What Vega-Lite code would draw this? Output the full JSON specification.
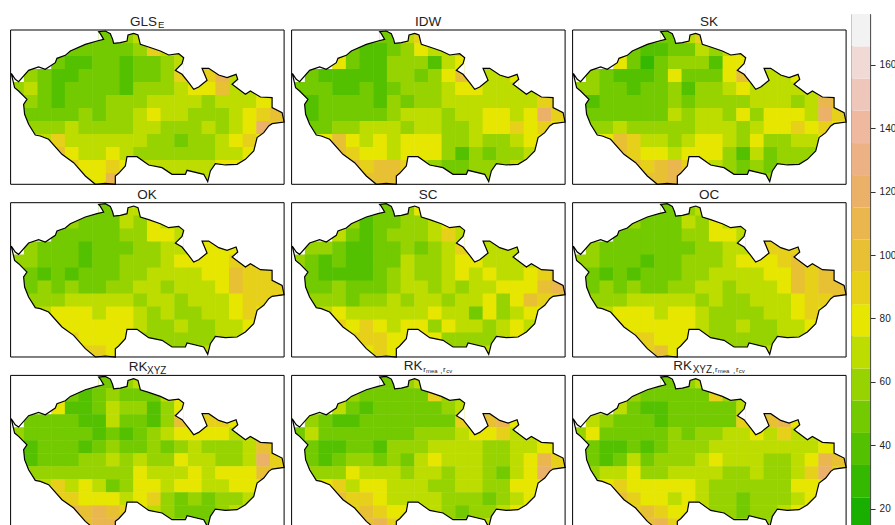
{"$schema":"https://vega.github.io/schema/vega-lite/v6.json","background":"white","padding":{"left":8.6,"top":13,"right":0,"bottom":0},"spacing":1.8,"config":{"text":{"font":"Liberation Sans","align":"left","baseline":"alphabetic","fill":"#222222"}},
"datasets":{"frame":[{"x":0,"x2":820,"y":0,"y2":463}],"cells":[
{"x":266,"y":20,"GLS":50,"IDW":50,"SK":50,"OK":50,"SC":50,"OC":50,"R1":50,"R2":50,"R3":50},
{"x":307,"y":20,"GLS":50,"IDW":50,"SK":50,"OK":50,"SC":50,"OC":50,"R1":50,"R2":50,"R3":50},
{"x":348,"y":20,"GLS":60,"IDW":70,"SK":70,"OK":70,"SC":60,"OC":60,"R1":60,"R2":60,"R3":60},
{"x":389,"y":20,"GLS":70,"IDW":90,"SK":90,"OK":70,"SC":80,"OC":70,"R1":70,"R2":70,"R3":70},
{"x":184,"y":59,"GLS":50,"IDW":50,"SK":50,"OK":60,"SC":60,"OC":60,"R1":50,"R2":60,"R3":60},
{"x":225,"y":59,"GLS":50,"IDW":40,"SK":40,"OK":50,"SC":40,"OC":50,"R1":40,"R2":50,"R3":50},
{"x":266,"y":59,"GLS":50,"IDW":40,"SK":40,"OK":50,"SC":50,"OC":50,"R1":50,"R2":50,"R3":50},
{"x":307,"y":59,"GLS":50,"IDW":50,"SK":50,"OK":50,"SC":50,"OC":50,"R1":60,"R2":50,"R3":50},
{"x":348,"y":59,"GLS":50,"IDW":60,"SK":50,"OK":70,"SC":60,"OC":70,"R1":50,"R2":50,"R3":50},
{"x":389,"y":59,"GLS":60,"IDW":80,"SK":70,"OK":60,"SC":60,"OC":60,"R1":50,"R2":50,"R3":50},
{"x":430,"y":59,"GLS":90,"IDW":70,"SK":60,"OK":80,"SC":70,"OC":80,"R1":50,"R2":90,"R3":90},
{"x":471,"y":59,"GLS":70,"IDW":70,"SK":70,"OK":70,"SC":80,"OC":70,"R1":70,"R2":60,"R3":60},
{"x":512,"y":59,"GLS":70,"IDW":70,"SK":80,"OK":70,"SC":70,"OC":70,"R1":80,"R2":60,"R3":60},
{"x":143,"y":98,"GLS":50,"IDW":80,"SK":80,"OK":50,"SC":70,"OC":50,"R1":80,"R2":70,"R3":70},
{"x":184,"y":98,"GLS":40,"IDW":50,"SK":50,"OK":50,"SC":50,"OC":50,"R1":40,"R2":50,"R3":50},
{"x":225,"y":98,"GLS":40,"IDW":40,"SK":30,"OK":50,"SC":40,"OC":50,"R1":40,"R2":40,"R3":40},
{"x":266,"y":98,"GLS":50,"IDW":40,"SK":50,"OK":50,"SC":50,"OC":50,"R1":50,"R2":50,"R3":40},
{"x":307,"y":98,"GLS":50,"IDW":60,"SK":60,"OK":50,"SC":60,"OC":50,"R1":70,"R2":50,"R3":50},
{"x":348,"y":98,"GLS":40,"IDW":60,"SK":60,"OK":60,"SC":60,"OC":60,"R1":60,"R2":50,"R3":50},
{"x":389,"y":98,"GLS":50,"IDW":60,"SK":60,"OK":60,"SC":60,"OC":60,"R1":60,"R2":50,"R3":50},
{"x":430,"y":98,"GLS":50,"IDW":40,"SK":40,"OK":80,"SC":70,"OC":80,"R1":40,"R2":50,"R3":50},
{"x":471,"y":98,"GLS":60,"IDW":70,"SK":80,"OK":80,"SC":90,"OC":80,"R1":60,"R2":60,"R3":50},
{"x":512,"y":98,"GLS":70,"IDW":80,"SK":80,"OK":70,"SC":70,"OC":70,"R1":80,"R2":70,"R3":70},
{"x":61,"y":137,"GLS":60,"IDW":50,"SK":60,"OK":60,"SC":60,"OC":60,"R1":50,"R2":60,"R3":70},
{"x":102,"y":137,"GLS":50,"IDW":40,"SK":50,"OK":50,"SC":60,"OC":50,"R1":50,"R2":50,"R3":60},
{"x":143,"y":137,"GLS":40,"IDW":40,"SK":40,"OK":50,"SC":50,"OC":50,"R1":50,"R2":40,"R3":50},
{"x":184,"y":137,"GLS":40,"IDW":40,"SK":40,"OK":50,"SC":40,"OC":50,"R1":50,"R2":40,"R3":50},
{"x":225,"y":137,"GLS":50,"IDW":40,"SK":40,"OK":40,"SC":40,"OC":50,"R1":40,"R2":50,"R3":50},
{"x":266,"y":137,"GLS":50,"IDW":40,"SK":50,"OK":50,"SC":50,"OC":50,"R1":40,"R2":50,"R3":40},
{"x":307,"y":137,"GLS":50,"IDW":60,"SK":80,"OK":50,"SC":50,"OC":50,"R1":70,"R2":50,"R3":50},
{"x":348,"y":137,"GLS":40,"IDW":60,"SK":50,"OK":50,"SC":60,"OC":50,"R1":50,"R2":50,"R3":50},
{"x":389,"y":137,"GLS":50,"IDW":50,"SK":50,"OK":60,"SC":50,"OC":60,"R1":50,"R2":50,"R3":50},
{"x":430,"y":137,"GLS":50,"IDW":60,"SK":50,"OK":60,"SC":60,"OC":60,"R1":40,"R2":50,"R3":50},
{"x":471,"y":137,"GLS":60,"IDW":80,"SK":80,"OK":70,"SC":70,"OC":70,"R1":60,"R2":50,"R3":50},
{"x":512,"y":137,"GLS":90,"IDW":100,"SK":100,"OK":70,"SC":90,"OC":70,"R1":100,"R2":90,"R3":90},
{"x":594,"y":137,"GLS":90,"IDW":70,"SK":70,"OK":80,"SC":70,"OC":90,"R1":90,"R2":100,"R3":100},
{"x":635,"y":137,"GLS":110,"IDW":70,"SK":70,"OK":80,"SC":70,"OC":90,"R1":90,"R2":110,"R3":110},
{"x":676,"y":137,"GLS":70,"IDW":80,"SK":80,"OK":80,"SC":70,"OC":90,"R1":80,"R2":80,"R3":80},
{"x":20,"y":176,"GLS":60,"IDW":50,"SK":60,"OK":60,"SC":60,"OC":60,"R1":60,"R2":50,"R3":60},
{"x":61,"y":176,"GLS":70,"IDW":50,"SK":60,"OK":60,"SC":50,"OC":60,"R1":50,"R2":70,"R3":80},
{"x":102,"y":176,"GLS":50,"IDW":50,"SK":50,"OK":50,"SC":40,"OC":50,"R1":50,"R2":50,"R3":50},
{"x":143,"y":176,"GLS":40,"IDW":40,"SK":50,"OK":50,"SC":50,"OC":50,"R1":50,"R2":50,"R3":50},
{"x":184,"y":176,"GLS":50,"IDW":40,"SK":40,"OK":50,"SC":40,"OC":50,"R1":50,"R2":50,"R3":50},
{"x":225,"y":176,"GLS":50,"IDW":50,"SK":50,"OK":40,"SC":40,"OC":40,"R1":50,"R2":50,"R3":50},
{"x":266,"y":176,"GLS":50,"IDW":40,"SK":50,"OK":50,"SC":50,"OC":50,"R1":40,"R2":50,"R3":50},
{"x":307,"y":176,"GLS":50,"IDW":50,"SK":60,"OK":50,"SC":50,"OC":50,"R1":50,"R2":50,"R3":60},
{"x":348,"y":176,"GLS":40,"IDW":60,"SK":40,"OK":60,"SC":70,"OC":60,"R1":40,"R2":50,"R3":50},
{"x":389,"y":176,"GLS":60,"IDW":60,"SK":60,"OK":60,"SC":60,"OC":60,"R1":50,"R2":60,"R3":60},
{"x":430,"y":176,"GLS":60,"IDW":60,"SK":60,"OK":60,"SC":60,"OC":60,"R1":60,"R2":60,"R3":60},
{"x":471,"y":176,"GLS":60,"IDW":70,"SK":70,"OK":70,"SC":70,"OC":70,"R1":70,"R2":60,"R3":70},
{"x":512,"y":176,"GLS":70,"IDW":80,"SK":80,"OK":80,"SC":80,"OC":80,"R1":80,"R2":70,"R3":70},
{"x":553,"y":176,"GLS":80,"IDW":80,"SK":70,"OK":80,"SC":80,"OC":80,"R1":80,"R2":80,"R3":80},
{"x":594,"y":176,"GLS":80,"IDW":70,"SK":70,"OK":80,"SC":70,"OC":80,"R1":80,"R2":80,"R3":70},
{"x":635,"y":176,"GLS":100,"IDW":70,"SK":70,"OK":80,"SC":70,"OC":90,"R1":80,"R2":90,"R3":90},
{"x":676,"y":176,"GLS":70,"IDW":70,"SK":70,"OK":90,"SC":70,"OC":100,"R1":70,"R2":70,"R3":70},
{"x":717,"y":176,"GLS":70,"IDW":70,"SK":70,"OK":90,"SC":70,"OC":90,"R1":70,"R2":70,"R3":70},
{"x":61,"y":215,"GLS":60,"IDW":40,"SK":40,"OK":50,"SC":50,"OC":50,"R1":40,"R2":50,"R3":50},
{"x":102,"y":215,"GLS":50,"IDW":50,"SK":50,"OK":40,"SC":40,"OC":40,"R1":50,"R2":40,"R3":40},
{"x":143,"y":215,"GLS":40,"IDW":50,"SK":50,"OK":50,"SC":40,"OC":50,"R1":50,"R2":40,"R3":40},
{"x":184,"y":215,"GLS":50,"IDW":50,"SK":50,"OK":40,"SC":40,"OC":40,"R1":50,"R2":50,"R3":50},
{"x":225,"y":215,"GLS":50,"IDW":50,"SK":50,"OK":50,"SC":40,"OC":50,"R1":40,"R2":50,"R3":40},
{"x":266,"y":215,"GLS":50,"IDW":40,"SK":50,"OK":50,"SC":50,"OC":50,"R1":50,"R2":40,"R3":50},
{"x":307,"y":215,"GLS":60,"IDW":60,"SK":60,"OK":50,"SC":60,"OC":50,"R1":60,"R2":60,"R3":60},
{"x":348,"y":215,"GLS":60,"IDW":50,"SK":50,"OK":60,"SC":70,"OC":60,"R1":50,"R2":60,"R3":60},
{"x":389,"y":215,"GLS":60,"IDW":60,"SK":60,"OK":60,"SC":60,"OC":60,"R1":50,"R2":60,"R3":60},
{"x":430,"y":215,"GLS":70,"IDW":60,"SK":60,"OK":70,"SC":60,"OC":70,"R1":60,"R2":70,"R3":70},
{"x":471,"y":215,"GLS":70,"IDW":70,"SK":60,"OK":70,"SC":70,"OC":70,"R1":50,"R2":70,"R3":70},
{"x":512,"y":215,"GLS":70,"IDW":70,"SK":60,"OK":70,"SC":80,"OC":70,"R1":60,"R2":70,"R3":70},
{"x":553,"y":215,"GLS":70,"IDW":70,"SK":70,"OK":70,"SC":70,"OC":70,"R1":70,"R2":70,"R3":70},
{"x":594,"y":215,"GLS":60,"IDW":70,"SK":70,"OK":80,"SC":80,"OC":80,"R1":60,"R2":60,"R3":70},
{"x":635,"y":215,"GLS":70,"IDW":70,"SK":70,"OK":80,"SC":70,"OC":80,"R1":60,"R2":60,"R3":70},
{"x":676,"y":215,"GLS":70,"IDW":70,"SK":60,"OK":100,"SC":70,"OC":100,"R1":60,"R2":70,"R3":70},
{"x":717,"y":215,"GLS":70,"IDW":70,"SK":70,"OK":90,"SC":80,"OC":90,"R1":70,"R2":70,"R3":70},
{"x":758,"y":215,"GLS":80,"IDW":90,"SK":110,"OK":90,"SC":90,"OC":100,"R1":100,"R2":80,"R3":80},
{"x":799,"y":215,"GLS":80,"IDW":90,"SK":100,"OK":90,"SC":100,"OC":100,"R1":90,"R2":80,"R3":80},
{"x":61,"y":254,"GLS":50,"IDW":40,"SK":50,"OK":50,"SC":50,"OC":50,"R1":40,"R2":50,"R3":50},
{"x":102,"y":254,"GLS":50,"IDW":50,"SK":50,"OK":60,"SC":50,"OC":60,"R1":50,"R2":40,"R3":40},
{"x":143,"y":254,"GLS":50,"IDW":50,"SK":50,"OK":50,"SC":60,"OC":50,"R1":50,"R2":50,"R3":50},
{"x":184,"y":254,"GLS":50,"IDW":50,"SK":50,"OK":60,"SC":50,"OC":60,"R1":50,"R2":60,"R3":70},
{"x":225,"y":254,"GLS":60,"IDW":50,"SK":50,"OK":50,"SC":50,"OC":50,"R1":60,"R2":60,"R3":50},
{"x":266,"y":254,"GLS":50,"IDW":50,"SK":50,"OK":50,"SC":50,"OC":50,"R1":60,"R2":50,"R3":60},
{"x":307,"y":254,"GLS":60,"IDW":60,"SK":70,"OK":60,"SC":60,"OC":60,"R1":70,"R2":60,"R3":60},
{"x":348,"y":254,"GLS":60,"IDW":70,"SK":60,"OK":60,"SC":70,"OC":60,"R1":60,"R2":50,"R3":60},
{"x":389,"y":254,"GLS":70,"IDW":70,"SK":70,"OK":70,"SC":70,"OC":70,"R1":70,"R2":70,"R3":70},
{"x":430,"y":254,"GLS":80,"IDW":70,"SK":70,"OK":70,"SC":60,"OC":70,"R1":60,"R2":80,"R3":80},
{"x":471,"y":254,"GLS":70,"IDW":60,"SK":60,"OK":60,"SC":70,"OC":60,"R1":60,"R2":70,"R3":70},
{"x":512,"y":254,"GLS":70,"IDW":70,"SK":80,"OK":70,"SC":60,"OC":70,"R1":80,"R2":70,"R3":70},
{"x":553,"y":254,"GLS":60,"IDW":70,"SK":60,"OK":70,"SC":70,"OC":70,"R1":70,"R2":70,"R3":70},
{"x":594,"y":254,"GLS":60,"IDW":80,"SK":80,"OK":70,"SC":70,"OC":70,"R1":70,"R2":60,"R3":60},
{"x":635,"y":254,"GLS":60,"IDW":80,"SK":80,"OK":80,"SC":80,"OC":80,"R1":60,"R2":60,"R3":60},
{"x":676,"y":254,"GLS":70,"IDW":70,"SK":80,"OK":100,"SC":80,"OC":100,"R1":60,"R2":70,"R3":70},
{"x":717,"y":254,"GLS":80,"IDW":80,"SK":70,"OK":90,"SC":80,"OC":90,"R1":70,"R2":80,"R3":80},
{"x":758,"y":254,"GLS":90,"IDW":120,"SK":120,"OK":90,"SC":100,"OC":100,"R1":120,"R2":110,"R3":110},
{"x":799,"y":254,"GLS":100,"IDW":90,"SK":90,"OK":90,"SC":110,"OC":100,"R1":90,"R2":90,"R3":100},
{"x":61,"y":293,"GLS":60,"IDW":50,"SK":60,"OK":60,"SC":60,"OC":60,"R1":60,"R2":60,"R3":60},
{"x":102,"y":293,"GLS":60,"IDW":50,"SK":60,"OK":60,"SC":60,"OC":60,"R1":60,"R2":60,"R3":70},
{"x":143,"y":293,"GLS":60,"IDW":60,"SK":70,"OK":60,"SC":60,"OC":60,"R1":60,"R2":60,"R3":70},
{"x":184,"y":293,"GLS":70,"IDW":60,"SK":60,"OK":70,"SC":50,"OC":70,"R1":60,"R2":80,"R3":80},
{"x":225,"y":293,"GLS":60,"IDW":70,"SK":60,"OK":70,"SC":60,"OC":70,"R1":60,"R2":70,"R3":60},
{"x":266,"y":293,"GLS":60,"IDW":70,"SK":60,"OK":70,"SC":60,"OC":70,"R1":60,"R2":70,"R3":60},
{"x":307,"y":293,"GLS":60,"IDW":70,"SK":60,"OK":70,"SC":70,"OC":70,"R1":60,"R2":70,"R3":70},
{"x":348,"y":293,"GLS":60,"IDW":60,"SK":60,"OK":70,"SC":60,"OC":70,"R1":60,"R2":60,"R3":70},
{"x":389,"y":293,"GLS":70,"IDW":70,"SK":70,"OK":60,"SC":70,"OC":60,"R1":80,"R2":70,"R3":70},
{"x":430,"y":293,"GLS":70,"IDW":70,"SK":70,"OK":70,"SC":70,"OC":70,"R1":70,"R2":70,"R3":70},
{"x":471,"y":293,"GLS":60,"IDW":60,"SK":70,"OK":70,"SC":60,"OC":60,"R1":70,"R2":60,"R3":60},
{"x":512,"y":293,"GLS":60,"IDW":60,"SK":60,"OK":60,"SC":70,"OC":60,"R1":70,"R2":70,"R3":60},
{"x":553,"y":293,"GLS":60,"IDW":70,"SK":70,"OK":70,"SC":70,"OC":70,"R1":80,"R2":70,"R3":70},
{"x":594,"y":293,"GLS":70,"IDW":80,"SK":80,"OK":70,"SC":80,"OC":70,"R1":70,"R2":60,"R3":60},
{"x":635,"y":293,"GLS":60,"IDW":80,"SK":80,"OK":70,"SC":60,"OC":70,"R1":80,"R2":50,"R3":60},
{"x":676,"y":293,"GLS":70,"IDW":90,"SK":90,"OK":80,"SC":80,"OC":80,"R1":80,"R2":70,"R3":70},
{"x":717,"y":293,"GLS":80,"IDW":80,"SK":80,"OK":90,"SC":100,"OC":90,"R1":80,"R2":80,"R3":90},
{"x":758,"y":293,"GLS":120,"IDW":90,"SK":90,"OK":90,"SC":90,"OC":90,"R1":100,"R2":120,"R3":120},
{"x":799,"y":293,"GLS":90,"IDW":80,"SK":80,"OK":90,"SC":90,"OC":100,"R1":90,"R2":90,"R3":90},
{"x":102,"y":332,"GLS":70,"IDW":80,"SK":80,"OK":70,"SC":70,"OC":70,"R1":70,"R2":80,"R3":80},
{"x":143,"y":332,"GLS":90,"IDW":100,"SK":100,"OK":80,"SC":80,"OC":80,"R1":90,"R2":90,"R3":90},
{"x":184,"y":332,"GLS":70,"IDW":80,"SK":90,"OK":80,"SC":70,"OC":80,"R1":70,"R2":70,"R3":80},
{"x":225,"y":332,"GLS":70,"IDW":70,"SK":70,"OK":80,"SC":70,"OC":80,"R1":80,"R2":80,"R3":80},
{"x":266,"y":332,"GLS":70,"IDW":80,"SK":70,"OK":70,"SC":70,"OC":70,"R1":70,"R2":80,"R3":80},
{"x":307,"y":332,"GLS":70,"IDW":70,"SK":60,"OK":80,"SC":70,"OC":80,"R1":50,"R2":70,"R3":80},
{"x":348,"y":332,"GLS":70,"IDW":80,"SK":70,"OK":80,"SC":70,"OC":80,"R1":60,"R2":70,"R3":80},
{"x":389,"y":332,"GLS":70,"IDW":80,"SK":80,"OK":70,"SC":70,"OC":70,"R1":80,"R2":70,"R3":70},
{"x":430,"y":332,"GLS":60,"IDW":80,"SK":80,"OK":60,"SC":80,"OC":60,"R1":80,"R2":60,"R3":60},
{"x":471,"y":332,"GLS":60,"IDW":60,"SK":70,"OK":70,"SC":70,"OC":60,"R1":70,"R2":60,"R3":60},
{"x":512,"y":332,"GLS":50,"IDW":60,"SK":60,"OK":60,"SC":70,"OC":60,"R1":80,"R2":70,"R3":60},
{"x":553,"y":332,"GLS":60,"IDW":70,"SK":80,"OK":60,"SC":50,"OC":60,"R1":80,"R2":70,"R3":60},
{"x":594,"y":332,"GLS":60,"IDW":60,"SK":60,"OK":70,"SC":80,"OC":70,"R1":70,"R2":60,"R3":60},
{"x":635,"y":332,"GLS":70,"IDW":60,"SK":60,"OK":70,"SC":60,"OC":70,"R1":70,"R2":60,"R3":60},
{"x":676,"y":332,"GLS":80,"IDW":70,"SK":70,"OK":80,"SC":70,"OC":80,"R1":80,"R2":80,"R3":80},
{"x":717,"y":332,"GLS":90,"IDW":80,"SK":70,"OK":90,"SC":80,"OC":90,"R1":80,"R2":80,"R3":80},
{"x":758,"y":332,"GLS":80,"IDW":80,"SK":80,"OK":80,"SC":80,"OC":80,"R1":80,"R2":80,"R3":80},
{"x":143,"y":371,"GLS":100,"IDW":100,"SK":100,"OK":80,"SC":90,"OC":80,"R1":90,"R2":100,"R3":100},
{"x":184,"y":371,"GLS":80,"IDW":90,"SK":90,"OK":80,"SC":80,"OC":80,"R1":90,"R2":90,"R3":90},
{"x":225,"y":371,"GLS":70,"IDW":80,"SK":80,"OK":80,"SC":90,"OC":80,"R1":80,"R2":90,"R3":80},
{"x":266,"y":371,"GLS":70,"IDW":80,"SK":80,"OK":80,"SC":80,"OC":80,"R1":80,"R2":80,"R3":80},
{"x":307,"y":371,"GLS":80,"IDW":70,"SK":70,"OK":80,"SC":70,"OC":80,"R1":80,"R2":70,"R3":70},
{"x":348,"y":371,"GLS":70,"IDW":80,"SK":80,"OK":80,"SC":80,"OC":80,"R1":70,"R2":70,"R3":80},
{"x":389,"y":371,"GLS":60,"IDW":80,"SK":80,"OK":70,"SC":80,"OC":70,"R1":80,"R2":70,"R3":70},
{"x":430,"y":371,"GLS":60,"IDW":80,"SK":80,"OK":60,"SC":60,"OC":60,"R1":90,"R2":70,"R3":60},
{"x":471,"y":371,"GLS":60,"IDW":60,"SK":60,"OK":60,"SC":80,"OC":60,"R1":60,"R2":60,"R3":60},
{"x":512,"y":371,"GLS":60,"IDW":40,"SK":40,"OK":70,"SC":70,"OC":70,"R1":50,"R2":60,"R3":50},
{"x":553,"y":371,"GLS":60,"IDW":60,"SK":70,"OK":60,"SC":70,"OC":60,"R1":60,"R2":60,"R3":60},
{"x":594,"y":371,"GLS":60,"IDW":50,"SK":50,"OK":60,"SC":60,"OC":60,"R1":50,"R2":50,"R3":60},
{"x":635,"y":371,"GLS":70,"IDW":60,"SK":60,"OK":70,"SC":70,"OC":70,"R1":60,"R2":60,"R3":60},
{"x":676,"y":371,"GLS":70,"IDW":60,"SK":60,"OK":70,"SC":80,"OC":70,"R1":60,"R2":70,"R3":70},
{"x":717,"y":371,"GLS":80,"IDW":70,"SK":60,"OK":80,"SC":70,"OC":80,"R1":70,"R2":80,"R3":80},
{"x":184,"y":410,"GLS":90,"IDW":100,"SK":100,"OK":90,"SC":90,"OC":90,"R1":110,"R2":90,"R3":90},
{"x":225,"y":410,"GLS":80,"IDW":90,"SK":90,"OK":80,"SC":90,"OC":90,"R1":100,"R2":100,"R3":100},
{"x":266,"y":410,"GLS":80,"IDW":100,"SK":100,"OK":80,"SC":90,"OC":80,"R1":110,"R2":90,"R3":90},
{"x":307,"y":410,"GLS":90,"IDW":100,"SK":110,"OK":80,"SC":80,"OC":80,"R1":100,"R2":80,"R3":80},
{"x":348,"y":410,"GLS":80,"IDW":90,"SK":90,"OK":80,"SC":80,"OC":80,"R1":90,"R2":80,"R3":80},
{"x":389,"y":410,"GLS":70,"IDW":70,"SK":80,"OK":60,"SC":80,"OC":70,"R1":80,"R2":70,"R3":70},
{"x":430,"y":410,"GLS":70,"IDW":60,"SK":70,"OK":60,"SC":80,"OC":60,"R1":70,"R2":70,"R3":60},
{"x":471,"y":410,"GLS":70,"IDW":50,"SK":60,"OK":60,"SC":60,"OC":60,"R1":60,"R2":60,"R3":60},
{"x":512,"y":410,"GLS":70,"IDW":50,"SK":50,"OK":60,"SC":60,"OC":60,"R1":50,"R2":50,"R3":50},
{"x":553,"y":410,"GLS":70,"IDW":60,"SK":60,"OK":60,"SC":60,"OC":60,"R1":50,"R2":60,"R3":60},
{"x":594,"y":410,"GLS":70,"IDW":60,"SK":50,"OK":60,"SC":60,"OC":60,"R1":50,"R2":60,"R3":60},
{"x":635,"y":410,"GLS":80,"IDW":60,"SK":60,"OK":70,"SC":70,"OC":70,"R1":60,"R2":70,"R3":70},
{"x":676,"y":410,"GLS":80,"IDW":70,"SK":60,"OK":70,"SC":80,"OC":70,"R1":70,"R2":80,"R3":80},
{"x":225,"y":449,"GLS":80,"IDW":100,"SK":100,"OK":90,"SC":80,"OC":90,"R1":100,"R2":100,"R3":100},
{"x":266,"y":449,"GLS":80,"IDW":100,"SK":100,"OK":90,"SC":90,"OC":100,"R1":110,"R2":110,"R3":110},
{"x":307,"y":449,"GLS":110,"IDW":100,"SK":110,"OK":80,"SC":80,"OC":80,"R1":110,"R2":90,"R3":90},
{"x":471,"y":449,"GLS":70,"IDW":50,"SK":60,"OK":60,"SC":60,"OC":60,"R1":60,"R2":60,"R3":60},
{"x":512,"y":449,"GLS":70,"IDW":50,"SK":60,"OK":60,"SC":60,"OC":60,"R1":60,"R2":60,"R3":60},
{"x":553,"y":449,"GLS":70,"IDW":60,"SK":60,"OK":60,"SC":70,"OC":60,"R1":50,"R2":70,"R3":60},
{"x":594,"y":449,"GLS":70,"IDW":60,"SK":60,"OK":70,"SC":70,"OC":70,"R1":50,"R2":70,"R3":60}
],
"mask":[
{"piece":"top","x":0,"y":130,"y2":0},{"piece":"top","x":2,"y":130,"y2":0},{"piece":"top","x":14,"y":148,"y2":0},{"piece":"top","x":24,"y":155,"y2":0},{"piece":"top","x":54,"y":121,"y2":0},{"piece":"top","x":84,"y":111,"y2":0},{"piece":"top","x":104,"y":118,"y2":0},{"piece":"top","x":134,"y":98,"y2":0},{"piece":"top","x":139,"y":85,"y2":0},{"piece":"top","x":164,"y":76,"y2":0},{"piece":"top","x":179,"y":63,"y2":0},{"piece":"top","x":224,"y":43,"y2":0},{"piece":"top","x":259,"y":33,"y2":0},{"piece":"top","x":263.9,"y":32,"y2":0},{"piece":"top","x":264,"y":5,"y2":0},{"piece":"top","x":284,"y":3,"y2":0},{"piece":"top","x":299,"y":11,"y2":0},{"piece":"top","x":306,"y":28,"y2":0},{"piece":"top","x":309,"y":40,"y2":0},{"piece":"top","x":329,"y":38,"y2":0},{"piece":"top","x":349,"y":33,"y2":0},{"piece":"top","x":352,"y":15,"y2":0},{"piece":"top","x":369,"y":10,"y2":0},{"piece":"top","x":382,"y":15,"y2":0},{"piece":"top","x":389,"y":43,"y2":0},{"piece":"top","x":414,"y":51,"y2":0},{"piece":"top","x":449,"y":63,"y2":0},{"piece":"top","x":474,"y":75,"y2":0},{"piece":"top","x":504,"y":71,"y2":0},{"piece":"top","x":519,"y":83,"y2":0},{"piece":"top","x":519.1,"y":139,"y2":0},{"piece":"top","x":534,"y":158,"y2":0},{"piece":"top","x":549,"y":178,"y2":0},{"piece":"top","x":564,"y":171,"y2":0},{"piece":"top","x":573.9,"y":163,"y2":0},{"piece":"top","x":574,"y":115,"y2":0},{"piece":"top","x":594,"y":115,"y2":0},{"piece":"top","x":624,"y":135,"y2":0},{"piece":"top","x":649,"y":143,"y2":0},{"piece":"top","x":676,"y":133,"y2":0},{"piece":"top","x":681,"y":148,"y2":0},{"piece":"top","x":681.1,"y":175,"y2":0},{"piece":"top","x":684,"y":178,"y2":0},{"piece":"top","x":704,"y":193,"y2":0},{"piece":"top","x":719,"y":183,"y2":0},{"piece":"top","x":749,"y":201,"y2":0},{"piece":"top","x":783.9,"y":203,"y2":0},{"piece":"top","x":784,"y":233,"y2":0},{"piece":"top","x":814,"y":248,"y2":0},{"piece":"top","x":820,"y":276,"y2":0},
{"piece":"bottom","x":0,"y":130,"y2":463},{"piece":"bottom","x":2,"y":130,"y2":463},{"piece":"bottom","x":12,"y":173,"y2":463},{"piece":"bottom","x":24,"y":183,"y2":463},{"piece":"bottom","x":38.9,"y":198,"y2":463},{"piece":"bottom","x":39,"y":223,"y2":463},{"piece":"bottom","x":42,"y":253,"y2":463},{"piece":"bottom","x":54,"y":283,"y2":463},{"piece":"bottom","x":74,"y":315,"y2":463},{"piece":"bottom","x":89,"y":318,"y2":463},{"piece":"bottom","x":114,"y":328,"y2":463},{"piece":"bottom","x":154,"y":373,"y2":463},{"piece":"bottom","x":189,"y":398,"y2":463},{"piece":"bottom","x":224,"y":438,"y2":463},{"piece":"bottom","x":254,"y":463,"y2":463},{"piece":"bottom","x":284,"y":460,"y2":463},{"piece":"bottom","x":313.9,"y":463,"y2":463},{"piece":"bottom","x":314,"y":438,"y2":463},{"piece":"bottom","x":324,"y":430,"y2":463},{"piece":"bottom","x":344,"y":408,"y2":463},{"piece":"bottom","x":349,"y":380,"y2":463},{"piece":"bottom","x":379,"y":380,"y2":463},{"piece":"bottom","x":414,"y":405,"y2":463},{"piece":"bottom","x":454,"y":413,"y2":463},{"piece":"bottom","x":484,"y":433,"y2":463},{"piece":"bottom","x":524,"y":433,"y2":463},{"piece":"bottom","x":529,"y":421,"y2":463},{"piece":"bottom","x":579,"y":433,"y2":463},{"piece":"bottom","x":591,"y":455,"y2":463},{"piece":"bottom","x":599,"y":423,"y2":463},{"piece":"bottom","x":614,"y":401,"y2":463},{"piece":"bottom","x":644,"y":405,"y2":463},{"piece":"bottom","x":679,"y":403,"y2":463},{"piece":"bottom","x":704,"y":388,"y2":463},{"piece":"bottom","x":729,"y":363,"y2":463},{"piece":"bottom","x":734,"y":343,"y2":463},{"piece":"bottom","x":739,"y":323,"y2":463},{"piece":"bottom","x":759,"y":308,"y2":463},{"piece":"bottom","x":774,"y":288,"y2":463},{"piece":"bottom","x":784,"y":281,"y2":463},{"piece":"bottom","x":820,"y":276,"y2":463},
{"piece":"n1","x":264,"y":5,"y2":32},{"piece":"n1","x":279,"y":28,"y2":28},
{"piece":"n3","x":494,"y":121,"y2":121},{"piece":"n3","x":505,"y":110,"y2":128},{"piece":"n3","x":514,"y":101,"y2":133},{"piece":"n3","x":519,"y":83,"y2":139},
{"piece":"n4","x":574,"y":115,"y2":163},{"piece":"n4","x":589,"y":151,"y2":151},
{"piece":"n5","x":664,"y":163,"y2":163},{"piece":"n5","x":681,"y":148,"y2":175},
{"piece":"n6","x":39,"y":198,"y2":223},{"piece":"n6","x":49,"y":208,"y2":208}
],
"border":[
{"i":1,"x":2,"y":130},{"i":2,"x":14,"y":148},{"i":3,"x":24,"y":155},{"i":4,"x":54,"y":121},{"i":5,"x":84,"y":111},{"i":6,"x":104,"y":118},{"i":7,"x":134,"y":98},{"i":8,"x":139,"y":85},{"i":9,"x":164,"y":76},{"i":10,"x":179,"y":63},{"i":11,"x":224,"y":43},{"i":12,"x":259,"y":33},{"i":13,"x":279,"y":28},{"i":14,"x":269,"y":11},{"i":15,"x":264,"y":5},{"i":16,"x":284,"y":3},{"i":17,"x":299,"y":11},{"i":18,"x":306,"y":28},{"i":19,"x":309,"y":40},{"i":20,"x":329,"y":38},{"i":21,"x":349,"y":33},{"i":22,"x":352,"y":15},{"i":23,"x":369,"y":10},{"i":24,"x":382,"y":15},{"i":25,"x":389,"y":43},{"i":26,"x":414,"y":51},{"i":27,"x":449,"y":63},{"i":28,"x":474,"y":75},{"i":29,"x":504,"y":71},{"i":30,"x":519,"y":83},{"i":31,"x":514,"y":101},{"i":32,"x":494,"y":121},{"i":33,"x":514,"y":133},{"i":34,"x":534,"y":158},{"i":35,"x":549,"y":178},{"i":36,"x":564,"y":171},{"i":37,"x":589,"y":151},{"i":38,"x":574,"y":115},{"i":39,"x":594,"y":115},{"i":40,"x":624,"y":135},{"i":41,"x":649,"y":143},{"i":42,"x":676,"y":133},{"i":43,"x":681,"y":148},{"i":44,"x":664,"y":163},{"i":45,"x":684,"y":178},{"i":46,"x":704,"y":193},{"i":47,"x":719,"y":183},{"i":48,"x":749,"y":201},{"i":49,"x":784,"y":203},{"i":50,"x":784,"y":233},{"i":51,"x":814,"y":248},{"i":52,"x":820,"y":276},{"i":53,"x":784,"y":281},{"i":54,"x":774,"y":288},{"i":55,"x":759,"y":308},{"i":56,"x":739,"y":323},{"i":57,"x":734,"y":343},{"i":58,"x":729,"y":363},{"i":59,"x":704,"y":388},{"i":60,"x":679,"y":403},{"i":61,"x":644,"y":405},{"i":62,"x":614,"y":401},{"i":63,"x":599,"y":423},{"i":64,"x":591,"y":455},{"i":65,"x":579,"y":433},{"i":66,"x":529,"y":421},{"i":67,"x":524,"y":433},{"i":68,"x":484,"y":433},{"i":69,"x":454,"y":413},{"i":70,"x":414,"y":405},{"i":71,"x":379,"y":380},{"i":72,"x":349,"y":380},{"i":73,"x":344,"y":408},{"i":74,"x":324,"y":430},{"i":75,"x":314,"y":438},{"i":76,"x":314,"y":463},{"i":77,"x":284,"y":460},{"i":78,"x":254,"y":463},{"i":79,"x":224,"y":438},{"i":80,"x":189,"y":398},{"i":81,"x":154,"y":373},{"i":82,"x":114,"y":328},{"i":83,"x":89,"y":318},{"i":84,"x":74,"y":315},{"i":85,"x":54,"y":283},{"i":86,"x":42,"y":253},{"i":87,"x":39,"y":223},{"i":88,"x":49,"y":208},{"i":89,"x":24,"y":183},{"i":90,"x":12,"y":173},{"i":91,"x":2,"y":130}
]},
"hconcat":[
{"bounds":"flush","spacing":0,"vconcat":[
{"width":273.5,"height":15.7,"view":{"stroke":null},"data":{"values":[{"k":1}]},"mark":{"type":"point","opacity":0},"encoding":{}},
{"bounds":"flush","columns":3,"spacing":{"row":17.7,"column":7},"concat":[
{"width":273.5,"height":154.3,"view":{"stroke":null},"encoding":{"x":{"field":"x","type":"quantitative","axis":null,"scale":{"domain":[0,820],"nice":false,"zero":false}},"y":{"field":"y","type":"quantitative","axis":null,"scale":{"domain":[0,463],"nice":false,"zero":false,"reverse":true}}},"layer":[
{"data":{"name":"cells"},"mark":{"type":"rect","width":14.2,"height":13.5,"clip":true},"encoding":{"color":{"field":"GLS","type":"quantitative","legend":null,"scale":{"type":"threshold","domain":[13.45,23.6,33.8,43.9,54.1,64.2,74.4,84.5,94.7,104.9,115,125.2,135.3,145.5,155.6,165.8],"range":["#00A600","#19AF00","#35B800","#53C100","#73CA00","#97D300","#BDDC00","#E6E600","#E7D01A","#E8C034","#EAB64E","#EBB169","#EDB283","#EEB99F","#EFC6BA","#F1D9D6","#F2F2F2"]}}}},
{"data":{"name":"mask"},"mark":{"type":"area","color":"white"},"encoding":{"y2":{"field":"y2"},"detail":{"field":"piece"}}},
{"data":{"name":"border"},"mark":{"type":"line","color":"black","strokeWidth":1.2},"encoding":{"order":{"field":"i"}}},
{"data":{"name":"frame"},"mark":{"type":"rect","fillOpacity":0,"stroke":"black","strokeWidth":1},"encoding":{"x2":{"field":"x2"},"y2":{"field":"y2"}}},
{"data":{"values":[{"t":"GLS","x":358,"y":-12}]},"mark":{"type":"text","fontSize":13.5},"encoding":{"text":{"field":"t"}}},
{"data":{"values":[{"t":"E","x":442,"y":-6}]},"mark":{"type":"text","fontSize":9.5},"encoding":{"text":{"field":"t"}}}
]},
{"width":273.5,"height":154.3,"view":{"stroke":null},"encoding":{"x":{"field":"x","type":"quantitative","axis":null,"scale":{"domain":[0,820],"nice":false,"zero":false}},"y":{"field":"y","type":"quantitative","axis":null,"scale":{"domain":[0,463],"nice":false,"zero":false,"reverse":true}}},"layer":[
{"data":{"name":"cells"},"mark":{"type":"rect","width":14.2,"height":13.5,"clip":true},"encoding":{"color":{"field":"IDW","type":"quantitative","legend":null,"scale":{"type":"threshold","domain":[13.45,23.6,33.8,43.9,54.1,64.2,74.4,84.5,94.7,104.9,115,125.2,135.3,145.5,155.6,165.8],"range":["#00A600","#19AF00","#35B800","#53C100","#73CA00","#97D300","#BDDC00","#E6E600","#E7D01A","#E8C034","#EAB64E","#EBB169","#EDB283","#EEB99F","#EFC6BA","#F1D9D6","#F2F2F2"]}}}},
{"data":{"name":"mask"},"mark":{"type":"area","color":"white"},"encoding":{"y2":{"field":"y2"},"detail":{"field":"piece"}}},
{"data":{"name":"border"},"mark":{"type":"line","color":"black","strokeWidth":1.2},"encoding":{"order":{"field":"i"}}},
{"data":{"name":"frame"},"mark":{"type":"rect","fillOpacity":0,"stroke":"black","strokeWidth":1},"encoding":{"x2":{"field":"x2"},"y2":{"field":"y2"}}},
{"data":{"values":[{"t":"IDW","x":409,"y":-12}]},"mark":{"type":"text","fontSize":13.5,"align":"center"},"encoding":{"text":{"field":"t"}}}
]},
{"width":273.5,"height":154.3,"view":{"stroke":null},"encoding":{"x":{"field":"x","type":"quantitative","axis":null,"scale":{"domain":[0,820],"nice":false,"zero":false}},"y":{"field":"y","type":"quantitative","axis":null,"scale":{"domain":[0,463],"nice":false,"zero":false,"reverse":true}}},"layer":[
{"data":{"name":"cells"},"mark":{"type":"rect","width":14.2,"height":13.5,"clip":true},"encoding":{"color":{"field":"SK","type":"quantitative","legend":null,"scale":{"type":"threshold","domain":[13.45,23.6,33.8,43.9,54.1,64.2,74.4,84.5,94.7,104.9,115,125.2,135.3,145.5,155.6,165.8],"range":["#00A600","#19AF00","#35B800","#53C100","#73CA00","#97D300","#BDDC00","#E6E600","#E7D01A","#E8C034","#EAB64E","#EBB169","#EDB283","#EEB99F","#EFC6BA","#F1D9D6","#F2F2F2"]}}}},
{"data":{"name":"mask"},"mark":{"type":"area","color":"white"},"encoding":{"y2":{"field":"y2"},"detail":{"field":"piece"}}},
{"data":{"name":"border"},"mark":{"type":"line","color":"black","strokeWidth":1.2},"encoding":{"order":{"field":"i"}}},
{"data":{"name":"frame"},"mark":{"type":"rect","fillOpacity":0,"stroke":"black","strokeWidth":1},"encoding":{"x2":{"field":"x2"},"y2":{"field":"y2"}}},
{"data":{"values":[{"t":"SK","x":409,"y":-12}]},"mark":{"type":"text","fontSize":13.5,"align":"center"},"encoding":{"text":{"field":"t"}}}
]},
{"width":273.5,"height":154.3,"view":{"stroke":null},"encoding":{"x":{"field":"x","type":"quantitative","axis":null,"scale":{"domain":[0,820],"nice":false,"zero":false}},"y":{"field":"y","type":"quantitative","axis":null,"scale":{"domain":[0,463],"nice":false,"zero":false,"reverse":true}}},"layer":[
{"data":{"name":"cells"},"mark":{"type":"rect","width":14.2,"height":13.5,"clip":true},"encoding":{"color":{"field":"OK","type":"quantitative","legend":null,"scale":{"type":"threshold","domain":[13.45,23.6,33.8,43.9,54.1,64.2,74.4,84.5,94.7,104.9,115,125.2,135.3,145.5,155.6,165.8],"range":["#00A600","#19AF00","#35B800","#53C100","#73CA00","#97D300","#BDDC00","#E6E600","#E7D01A","#E8C034","#EAB64E","#EBB169","#EDB283","#EEB99F","#EFC6BA","#F1D9D6","#F2F2F2"]}}}},
{"data":{"name":"mask"},"mark":{"type":"area","color":"white"},"encoding":{"y2":{"field":"y2"},"detail":{"field":"piece"}}},
{"data":{"name":"border"},"mark":{"type":"line","color":"black","strokeWidth":1.2},"encoding":{"order":{"field":"i"}}},
{"data":{"name":"frame"},"mark":{"type":"rect","fillOpacity":0,"stroke":"black","strokeWidth":1},"encoding":{"x2":{"field":"x2"},"y2":{"field":"y2"}}},
{"data":{"values":[{"t":"OK","x":409,"y":-10}]},"mark":{"type":"text","fontSize":13.5,"align":"center"},"encoding":{"text":{"field":"t"}}}
]},
{"width":273.5,"height":154.3,"view":{"stroke":null},"encoding":{"x":{"field":"x","type":"quantitative","axis":null,"scale":{"domain":[0,820],"nice":false,"zero":false}},"y":{"field":"y","type":"quantitative","axis":null,"scale":{"domain":[0,463],"nice":false,"zero":false,"reverse":true}}},"layer":[
{"data":{"name":"cells"},"mark":{"type":"rect","width":14.2,"height":13.5,"clip":true},"encoding":{"color":{"field":"SC","type":"quantitative","legend":null,"scale":{"type":"threshold","domain":[13.45,23.6,33.8,43.9,54.1,64.2,74.4,84.5,94.7,104.9,115,125.2,135.3,145.5,155.6,165.8],"range":["#00A600","#19AF00","#35B800","#53C100","#73CA00","#97D300","#BDDC00","#E6E600","#E7D01A","#E8C034","#EAB64E","#EBB169","#EDB283","#EEB99F","#EFC6BA","#F1D9D6","#F2F2F2"]}}}},
{"data":{"name":"mask"},"mark":{"type":"area","color":"white"},"encoding":{"y2":{"field":"y2"},"detail":{"field":"piece"}}},
{"data":{"name":"border"},"mark":{"type":"line","color":"black","strokeWidth":1.2},"encoding":{"order":{"field":"i"}}},
{"data":{"name":"frame"},"mark":{"type":"rect","fillOpacity":0,"stroke":"black","strokeWidth":1},"encoding":{"x2":{"field":"x2"},"y2":{"field":"y2"}}},
{"data":{"values":[{"t":"SC","x":409,"y":-10}]},"mark":{"type":"text","fontSize":13.5,"align":"center"},"encoding":{"text":{"field":"t"}}}
]},
{"width":273.5,"height":154.3,"view":{"stroke":null},"encoding":{"x":{"field":"x","type":"quantitative","axis":null,"scale":{"domain":[0,820],"nice":false,"zero":false}},"y":{"field":"y","type":"quantitative","axis":null,"scale":{"domain":[0,463],"nice":false,"zero":false,"reverse":true}}},"layer":[
{"data":{"name":"cells"},"mark":{"type":"rect","width":14.2,"height":13.5,"clip":true},"encoding":{"color":{"field":"OC","type":"quantitative","legend":null,"scale":{"type":"threshold","domain":[13.45,23.6,33.8,43.9,54.1,64.2,74.4,84.5,94.7,104.9,115,125.2,135.3,145.5,155.6,165.8],"range":["#00A600","#19AF00","#35B800","#53C100","#73CA00","#97D300","#BDDC00","#E6E600","#E7D01A","#E8C034","#EAB64E","#EBB169","#EDB283","#EEB99F","#EFC6BA","#F1D9D6","#F2F2F2"]}}}},
{"data":{"name":"mask"},"mark":{"type":"area","color":"white"},"encoding":{"y2":{"field":"y2"},"detail":{"field":"piece"}}},
{"data":{"name":"border"},"mark":{"type":"line","color":"black","strokeWidth":1.2},"encoding":{"order":{"field":"i"}}},
{"data":{"name":"frame"},"mark":{"type":"rect","fillOpacity":0,"stroke":"black","strokeWidth":1},"encoding":{"x2":{"field":"x2"},"y2":{"field":"y2"}}},
{"data":{"values":[{"t":"OC","x":409,"y":-10}]},"mark":{"type":"text","fontSize":13.5,"align":"center"},"encoding":{"text":{"field":"t"}}}
]},
{"width":273.5,"height":154.3,"view":{"stroke":null},"encoding":{"x":{"field":"x","type":"quantitative","axis":null,"scale":{"domain":[0,820],"nice":false,"zero":false}},"y":{"field":"y","type":"quantitative","axis":null,"scale":{"domain":[0,463],"nice":false,"zero":false,"reverse":true}}},"layer":[
{"data":{"name":"cells"},"mark":{"type":"rect","width":14.2,"height":13.5,"clip":true},"encoding":{"color":{"field":"R1","type":"quantitative","legend":null,"scale":{"type":"threshold","domain":[13.45,23.6,33.8,43.9,54.1,64.2,74.4,84.5,94.7,104.9,115,125.2,135.3,145.5,155.6,165.8],"range":["#00A600","#19AF00","#35B800","#53C100","#73CA00","#97D300","#BDDC00","#E6E600","#E7D01A","#E8C034","#EAB64E","#EBB169","#EDB283","#EEB99F","#EFC6BA","#F1D9D6","#F2F2F2"]}}}},
{"data":{"name":"mask"},"mark":{"type":"area","color":"white"},"encoding":{"y2":{"field":"y2"},"detail":{"field":"piece"}}},
{"data":{"name":"border"},"mark":{"type":"line","color":"black","strokeWidth":1.2},"encoding":{"order":{"field":"i"}}},
{"data":{"name":"frame"},"mark":{"type":"rect","fillOpacity":0,"stroke":"black","strokeWidth":1},"encoding":{"x2":{"field":"x2"},"y2":{"field":"y2"}}},
{"data":{"values":[{"t":"RK","x":354,"y":-13}]},"mark":{"type":"text","fontSize":13.5},"encoding":{"text":{"field":"t"}}},
{"data":{"values":[{"t":"XYZ","x":409,"y":-5}]},"mark":{"type":"text","fontSize":10},"encoding":{"text":{"field":"t"}}}
]},
{"width":273.5,"height":154.3,"view":{"stroke":null},"encoding":{"x":{"field":"x","type":"quantitative","axis":null,"scale":{"domain":[0,820],"nice":false,"zero":false}},"y":{"field":"y","type":"quantitative","axis":null,"scale":{"domain":[0,463],"nice":false,"zero":false,"reverse":true}}},"layer":[
{"data":{"name":"cells"},"mark":{"type":"rect","width":14.2,"height":13.5,"clip":true},"encoding":{"color":{"field":"R2","type":"quantitative","legend":null,"scale":{"type":"threshold","domain":[13.45,23.6,33.8,43.9,54.1,64.2,74.4,84.5,94.7,104.9,115,125.2,135.3,145.5,155.6,165.8],"range":["#00A600","#19AF00","#35B800","#53C100","#73CA00","#97D300","#BDDC00","#E6E600","#E7D01A","#E8C034","#EAB64E","#EBB169","#EDB283","#EEB99F","#EFC6BA","#F1D9D6","#F2F2F2"]}}}},
{"data":{"name":"mask"},"mark":{"type":"area","color":"white"},"encoding":{"y2":{"field":"y2"},"detail":{"field":"piece"}}},
{"data":{"name":"border"},"mark":{"type":"line","color":"black","strokeWidth":1.2},"encoding":{"order":{"field":"i"}}},
{"data":{"name":"frame"},"mark":{"type":"rect","fillOpacity":0,"stroke":"black","strokeWidth":1},"encoding":{"x2":{"field":"x2"},"y2":{"field":"y2"}}},
{"data":{"values":[{"t":"RK","x":336,"y":-15}]},"mark":{"type":"text","fontSize":13.5},"encoding":{"text":{"field":"t"}}},
{"data":{"values":[{"t":"r","x":395,"y":-10},{"t":",","x":446,"y":-8},{"t":"r","x":454,"y":-10}]},"mark":{"type":"text","fontSize":8},"encoding":{"text":{"field":"t"}}},
{"data":{"values":[{"t":"mea","x":403,"y":-6},{"t":"cv","x":464,"y":-6}]},"mark":{"type":"text","fontSize":6},"encoding":{"text":{"field":"t"}}}
]},
{"width":273.5,"height":154.3,"view":{"stroke":null},"encoding":{"x":{"field":"x","type":"quantitative","axis":null,"scale":{"domain":[0,820],"nice":false,"zero":false}},"y":{"field":"y","type":"quantitative","axis":null,"scale":{"domain":[0,463],"nice":false,"zero":false,"reverse":true}}},"layer":[
{"data":{"name":"cells"},"mark":{"type":"rect","width":14.2,"height":13.5,"clip":true},"encoding":{"color":{"field":"R3","type":"quantitative","legend":null,"scale":{"type":"threshold","domain":[13.45,23.6,33.8,43.9,54.1,64.2,74.4,84.5,94.7,104.9,115,125.2,135.3,145.5,155.6,165.8],"range":["#00A600","#19AF00","#35B800","#53C100","#73CA00","#97D300","#BDDC00","#E6E600","#E7D01A","#E8C034","#EAB64E","#EBB169","#EDB283","#EEB99F","#EFC6BA","#F1D9D6","#F2F2F2"]}}}},
{"data":{"name":"mask"},"mark":{"type":"area","color":"white"},"encoding":{"y2":{"field":"y2"},"detail":{"field":"piece"}}},
{"data":{"name":"border"},"mark":{"type":"line","color":"black","strokeWidth":1.2},"encoding":{"order":{"field":"i"}}},
{"data":{"name":"frame"},"mark":{"type":"rect","fillOpacity":0,"stroke":"black","strokeWidth":1},"encoding":{"x2":{"field":"x2"},"y2":{"field":"y2"}}},
{"data":{"values":[{"t":"RK","x":302,"y":-15}]},"mark":{"type":"text","fontSize":13.5},"encoding":{"text":{"field":"t"}}},
{"data":{"values":[{"t":"XYZ","x":360,"y":-7}]},"mark":{"type":"text","fontSize":10},"encoding":{"text":{"field":"t"}}},
{"data":{"values":[{"t":",","x":419,"y":-8},{"t":"r","x":427,"y":-10},{"t":",","x":481,"y":-8},{"t":"r","x":490,"y":-10}]},"mark":{"type":"text","fontSize":8},"encoding":{"text":{"field":"t"}}},
{"data":{"values":[{"t":"mea","x":435,"y":-6},{"t":"cv","x":498,"y":-6}]},"mark":{"type":"text","fontSize":6},"encoding":{"text":{"field":"t"}}}
]}
]}
]},
{"width":18.7,"height":547.7,"view":{"stroke":"#333333"},"data":{"values":[{"lo":3.3,"hi":13.45},{"lo":13.45,"hi":23.6},{"lo":23.6,"hi":33.8},{"lo":33.8,"hi":43.9},{"lo":43.9,"hi":54.1},{"lo":54.1,"hi":64.2},{"lo":64.2,"hi":74.4},{"lo":74.4,"hi":84.5},{"lo":84.5,"hi":94.7},{"lo":94.7,"hi":104.9},{"lo":104.9,"hi":115},{"lo":115,"hi":125.2},{"lo":125.2,"hi":135.3},{"lo":135.3,"hi":145.5},{"lo":145.5,"hi":155.6},{"lo":155.6,"hi":165.8},{"lo":165.8,"hi":176}]},"mark":{"type":"rect"},"encoding":{"y":{"field":"lo","type":"quantitative","scale":{"domain":[3.3,176],"nice":false,"zero":false},"axis":{"orient":"right","values":[20,40,60,80,100,120,140,160],"title":null,"grid":false,"domain":false,"tickColor":"#333333","tickSize":5,"labelColor":"#222222","labelFont":"Liberation Sans","labelFontSize":10,"labelPadding":4}},"y2":{"field":"hi"},"color":{"field":"lo","type":"quantitative","legend":null,"scale":{"type":"threshold","domain":[13.45,23.6,33.8,43.9,54.1,64.2,74.4,84.5,94.7,104.9,115,125.2,135.3,145.5,155.6,165.8],"range":["#00A600","#19AF00","#35B800","#53C100","#73CA00","#97D300","#BDDC00","#E6E600","#E7D01A","#E8C034","#EAB64E","#EBB169","#EDB283","#EEB99F","#EFC6BA","#F1D9D6","#F2F2F2"]}}}}
]}
